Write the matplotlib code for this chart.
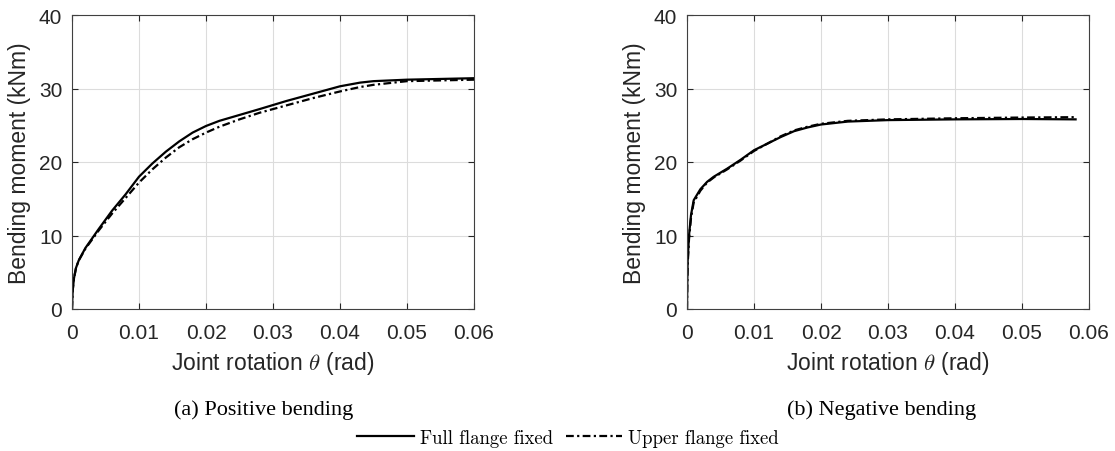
import numpy as np
import matplotlib.pyplot as plt
from matplotlib.lines import Line2D

# (a) positive bending
pos_full_x = [0, 0.0001, 0.0003, 0.0006, 0.001, 0.002, 0.004, 0.006, 0.008, 0.010, 0.012,
              0.014, 0.016, 0.018, 0.020, 0.022, 0.025, 0.028, 0.032, 0.036, 0.040,
              0.043, 0.045, 0.050, 0.055, 0.060]
pos_full_y = [0, 2.5, 4.2, 5.6, 6.6, 8.3, 10.9, 13.4, 15.6, 18.0, 19.8,
              21.4, 22.8, 24.0, 24.9, 25.6, 26.4, 27.2, 28.3, 29.3, 30.3,
              30.8, 31.0, 31.2, 31.3, 31.4]
pos_upper_x = [0, 0.0001, 0.0003, 0.0006, 0.001, 0.002, 0.004, 0.006, 0.008, 0.010, 0.012,
               0.014, 0.016, 0.018, 0.020, 0.022, 0.025, 0.028, 0.032, 0.036, 0.040,
               0.043, 0.045, 0.050, 0.055, 0.060]
pos_upper_y = [0, 2.5, 4.2, 5.6, 6.6, 8.2, 10.7, 13.0, 15.1, 17.2, 19.0,
               20.6, 22.0, 23.1, 24.0, 24.8, 25.8, 26.7, 27.7, 28.7, 29.6,
               30.2, 30.5, 31.0, 31.1, 31.2]

# (b) negative bending
neg_full_x = [0, 0.00005, 0.0001, 0.0003, 0.0006, 0.001, 0.002, 0.003, 0.004, 0.006, 0.008,
              0.010, 0.012, 0.014, 0.016, 0.018, 0.020, 0.024, 0.030, 0.040, 0.050, 0.058]
neg_full_y = [0, 4.0, 6.5, 10.0, 12.8, 14.8, 16.3, 17.3, 18.0, 19.1, 20.3,
              21.6, 22.5, 23.4, 24.2, 24.7, 25.1, 25.5, 25.7, 25.8, 25.85, 25.8]
neg_upper_x = [0, 0.00005, 0.0001, 0.0003, 0.0006, 0.001, 0.002, 0.003, 0.004, 0.006, 0.008,
               0.010, 0.012, 0.014, 0.016, 0.018, 0.020, 0.024, 0.030, 0.040, 0.050, 0.058]
neg_upper_y = [0, 3.5, 6.0, 9.5, 12.4, 14.5, 16.1, 17.2, 17.9, 19.0, 20.2,
               21.5, 22.5, 23.5, 24.3, 24.8, 25.2, 25.6, 25.8, 25.95, 26.05, 26.1]

captions = ['(a) Positive bending', '(b) Negative bending']
series = [(pos_full_x, pos_full_y, pos_upper_x, pos_upper_y),
          (neg_full_x, neg_full_y, neg_upper_x, neg_upper_y)]

dashdot = (0, (3.5, 1.5, 1, 1.5))
plt.rcParams['font.family'] = 'Liberation Sans'
plt.rcParams['mathtext.fontset'] = 'cm'
fig = plt.figure(figsize=(11.15, 4.52), dpi=100)
lefts = [72 / 1115, 687 / 1115]
cap_x = [264 / 1115, 882 / 1115]
for i in range(2):
    ax = fig.add_axes([lefts[i], 1 - 310 / 452, 402 / 1115, 294 / 452])
    fx, fy, ux, uy = series[i]
    ax.plot(fx, fy, color='black', lw=1.6, ls='-')
    ax.plot(ux, uy, color='black', lw=1.6, ls=dashdot)
    ax.set_xlim(0, 0.06)
    ax.set_ylim(0, 40)
    ax.set_xticks([0, 0.01, 0.02, 0.03, 0.04, 0.05, 0.06])
    ax.set_xticklabels(['0', '0.01', '0.02', '0.03', '0.04', '0.05', '0.06'])
    ax.set_yticks([0, 10, 20, 30, 40])
    ax.grid(True, color='#dcdcdc', lw=0.8)
    ax.set_axisbelow(True)
    ax.tick_params(direction='in', top=True, right=True, labelsize=15, colors='#262626', length=4)
    ax.tick_params(axis='x', pad=10)
    ax.tick_params(axis='y', pad=7)
    for s in ax.spines.values():
        s.set_color('#404040')
        s.set_linewidth(0.8)
    ax.set_xlabel(r'Joint rotation $\theta$ (rad)', fontsize=16.5, color='#262626', labelpad=5)
    ax.set_ylabel('Bending moment (kNm)', fontsize=16.5, color='#262626', labelpad=6)
    fig.text(cap_x[i], 1 - 415 / 452, captions[i], ha='center', va='baseline',
             family='Liberation Serif', fontsize=16)

handles = [Line2D([], [], color='black', lw=1.6, ls='-'),
           Line2D([], [], color='black', lw=1.6, ls=dashdot)]
fig.legend(handles, ['Full flange fixed', 'Upper flange fixed'], loc='center',
           bbox_to_anchor=(568 / 1115, 1 - 439 / 452), ncol=2, frameon=False,
           prop={'family': 'cmr10', 'size': 13.5}, handlelength=3.0, handletextpad=0.32,
           columnspacing=0.7, borderpad=0, borderaxespad=0)

fig.savefig('out.png', dpi=100)
